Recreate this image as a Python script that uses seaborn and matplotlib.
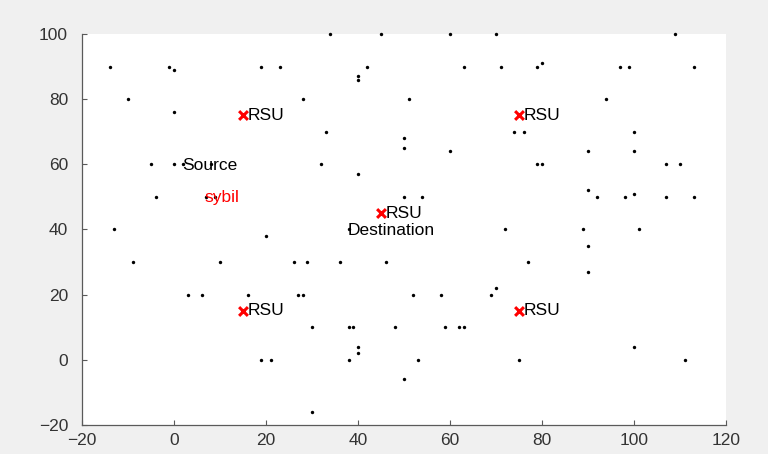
import matplotlib
matplotlib.use("Agg")
import matplotlib.pyplot as plt
import seaborn as sns
import pandas as pd

# Vehicle nodes
node_x = [34, 45, 60, 70, 109,
          -14, -1, 0, 19, 23, 42, 63, 71, 79, 80, 97, 99, 113,
          40, 40,
          -10, 28, 51, 94,
          0,
          33, 74, 76, 100,
          50, 50, 60, 90, 100,
          -5, 0, 2, 8, 32, 79, 80, 107, 110,
          40,
          -4, 7, 9, 50, 54, 90, 92, 98, 100, 107, 113,
          -13, 20, 38, 72, 89, 101,
          90,
          -9, 10, 26, 29, 36, 46, 77,
          90,
          3, 6, 16, 27, 28, 52, 58, 69, 70,
          30, 38, 39, 48, 59, 62, 63,
          40, 40, 100,
          19, 21, 38, 53, 75, 111,
          50, 30]
node_y = [100, 100, 100, 100, 100,
          90, 90, 89, 90, 90, 90, 90, 90, 90, 91, 90, 90, 90,
          87, 86,
          80, 80, 80, 80,
          76,
          70, 70, 70, 70,
          68, 65, 64, 64, 64,
          60, 60, 60, 60, 60, 60, 60, 60, 60,
          57,
          50, 50, 50, 50, 50, 52, 50, 50, 51, 50, 50,
          40, 38, 40, 40, 40, 40,
          35,
          30, 30, 30, 30, 30, 30, 30,
          27,
          20, 20, 20, 20, 20, 20, 20, 20, 22,
          10, 10, 10, 10, 10, 10, 10,
          4, 2, 4,
          0, 0, 0, 0, 0, 0,
          -6, -16]

# Road side units
rsu_x = [15, 75, 45, 15, 75]
rsu_y = [75, 75, 45, 15, 15]

# Labels
label_text = ["Source", "sybil", "Destination"]
label_x = [2, 7, 38]
label_y = [60, 50, 40]
label_color = ["black", "red", "black"]

x_ticks = [-20, 0, 20, 40, 60, 80, 100, 120]
y_ticks = [-20, 0, 20, 40, 60, 80, 100]

sns.set_style("white")
plt.rcParams['font.family'] = ['Liberation Sans', 'DejaVu Sans']

fig = plt.figure(figsize=(7.68, 4.54), dpi=100, facecolor="#f0f0f0")
ax = fig.add_axes([82/768, 1-425/454, (726-82)/768, (425-34)/454])
ax.set_facecolor("white")

nodes = pd.DataFrame({"x": node_x, "y": node_y})
rsu = pd.DataFrame({"x": rsu_x, "y": rsu_y})

sns.scatterplot(data=nodes, x="x", y="y", ax=ax, color="black", s=6,
                marker="o", edgecolor="black", linewidth=0, clip_on=False)
sns.scatterplot(data=rsu, x="x", y="y", ax=ax, color="red", s=40,
                marker="x", linewidth=2.2, clip_on=False)

for xv, yv in zip(rsu_x, rsu_y):
    ax.text(xv + 1.1, yv, "RSU", fontsize=12.5, va="center", ha="left",
            color="black")
for t, xv, yv, c in zip(label_text, label_x, label_y, label_color):
    ax.text(xv - 0.3, yv - 0.3, t, fontsize=12.5, va="center", ha="left", color=c)

ax.set_xlim(-20, 120)
ax.set_ylim(-20, 100)
ax.set_xticks(x_ticks)
ax.set_yticks(y_ticks)
ax.set_xlabel("")
ax.set_ylabel("")
for side in ["top", "right"]:
    ax.spines[side].set_visible(False)
for side in ["left", "bottom"]:
    ax.spines[side].set_color("#5a5a5a")
    ax.spines[side].set_linewidth(0.9)
ax.tick_params(direction="in", length=3.5, width=0.8, colors="#5a5a5a",
               labelcolor="#333333", labelsize=12.5, left=True, bottom=True)
ax.tick_params(axis="y", pad=10)
ax.tick_params(axis="x", pad=6)

fig.savefig("out.png", dpi=100, facecolor=fig.get_facecolor())
